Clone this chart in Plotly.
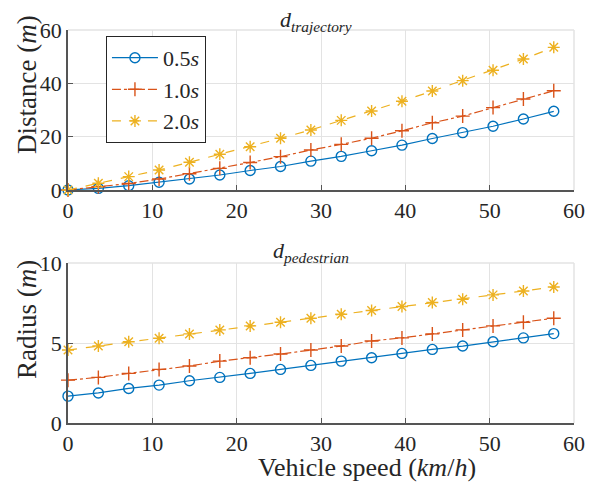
import plotly.graph_objects as go
from plotly.subplots import make_subplots

speed_kmh = [0, 3.6, 7.2, 10.8, 14.4, 18.0, 21.6, 25.2, 28.8, 32.4, 36.0, 39.6, 43.2, 46.8, 50.4, 54.0, 57.6]

traj_05 = [0, 0.6, 1.6, 2.9, 4.1, 5.6, 7.3, 8.8, 10.8, 12.6, 14.7, 16.8, 19.3, 21.5, 23.9, 26.6, 29.5]
traj_10 = [0, 1.2, 2.4, 4.1, 6.1, 8.1, 10.3, 12.5, 15.0, 17.1, 19.4, 22.2, 25.2, 27.7, 30.9, 34.1, 37.2]
traj_20 = [0, 2.5, 5.0, 7.5, 10.4, 13.4, 16.2, 19.4, 22.5, 26.1, 29.6, 33.3, 37.1, 41.0, 44.9, 49.1, 53.5]

ped_05 = [1.68, 1.88, 2.16, 2.37, 2.64, 2.85, 3.10, 3.35, 3.60, 3.87, 4.08, 4.35, 4.60, 4.81, 5.08, 5.32, 5.59]
ped_10 = [2.68, 2.85, 3.10, 3.35, 3.56, 3.87, 4.08, 4.31, 4.56, 4.81, 5.13, 5.32, 5.57, 5.82, 6.07, 6.30, 6.55]
ped_20 = [4.56, 4.81, 5.08, 5.30, 5.57, 5.82, 6.07, 6.30, 6.55, 6.80, 7.03, 7.28, 7.53, 7.74, 8.01, 8.25, 8.50]

series_names = ["0.5<i>s</i>", "1.0<i>s</i>", "2.0<i>s</i>"]
colors = ["#0072BD", "#D95319", "#EDB120"]
dashes = ["solid", "dashdot", "dash"]
symbols = ["circle-open", "cross-thin-open", "asterisk-open"]

FONT = "Liberation Serif"
TXT = "#262626"

fig = make_subplots(rows=2, cols=1, vertical_spacing=0.0)

top = [traj_05, traj_10, traj_20]
bot = [ped_05, ped_10, ped_20]
for i in range(3):
    for row, data, show in [(1, top[i], True), (2, bot[i], False)]:
        fig.add_trace(go.Scatter(
            x=speed_kmh, y=data, mode="lines+markers", name=series_names[i],
            showlegend=show, cliponaxis=False,
            line=dict(color=colors[i], width=1.2, dash=dashes[i]),
            marker=dict(symbol=symbols[i], size=10, color=colors[i],
                        line=dict(color=colors[i], width=1.4)),
        ), row=row, col=1)

axis_common = dict(
    showgrid=True, gridcolor="#E3E3E3", gridwidth=1,
    showline=True, linecolor="#555555", linewidth=1.5,
    ticks="inside", ticklen=5, tickcolor="#555555", tickwidth=1,
    tickfont=dict(family=FONT, size=22, color=TXT),
    zeroline=False, automargin=False,
)

fig.update_xaxes(range=[0, 60], dtick=10, tick0=0, **axis_common)
fig.update_yaxes(**axis_common)

# page body has an 8px default margin: figure sits at (8, 8) in the window
fig.update_layout(
    xaxis=dict(domain=[0, 1]),
    yaxis=dict(domain=[0.593, 1.0], range=[0, 60], tickvals=[0, 20, 40, 60]),
    xaxis2=dict(domain=[0, 1]),
    yaxis2=dict(domain=[0.0, 0.407], range=[0, 10], tickvals=[0, 5, 10]),
    width=587, height=475,
    margin=dict(l=60, r=21, t=22, b=60),
    plot_bgcolor="white", paper_bgcolor="white",
    legend=dict(x=0.075, y=0.985, xanchor="left", yanchor="top",
                bordercolor=TXT, borderwidth=1, bgcolor="white",
                font=dict(family=FONT, size=22, color=TXT),
                tracegroupgap=0, itemwidth=46),
    showlegend=True,
)

# light box edges (top/right)
for xr, yr in [("x domain", "y domain"), ("x2 domain", "y2 domain")]:
    fig.add_shape(type="line", xref=xr, yref=yr, x0=0, x1=1, y0=1, y1=1,
                  line=dict(color="#E3E3E3", width=1.5))
    fig.add_shape(type="line", xref=xr, yref=yr, x0=1, x1=1, y0=0, y1=1,
                  line=dict(color="#E3E3E3", width=1.5))

# subplot titles (shifts in window pixels relative to plot-area corners)
fig.add_annotation(text="<i>d<sub>trajectory</sub></i>", xref="paper", yref="paper",
                   x=0.0, xshift=316 - 68, y=1.0, yshift=30 - 21, yanchor="middle",
                   xanchor="center", showarrow=False,
                   font=dict(family=FONT, size=22, color=TXT))
fig.add_annotation(text="<i>d<sub>pedestrian</sub></i>", xref="paper", yref="paper",
                   x=0.0, xshift=311 - 68, y=0.407, yshift=263 - 252, yanchor="middle",
                   xanchor="center", showarrow=False,
                   font=dict(family=FONT, size=22, color=TXT))

# axis titles
fig.add_annotation(text="Distance (<i>m</i>)", xref="paper", yref="paper",
                   x=0.0, xshift=27 - 68, y=1.0, yshift=30 - 85, textangle=-90,
                   xanchor="center", yanchor="middle", showarrow=False,
                   font=dict(family=FONT, size=27, color=TXT))
fig.add_annotation(text="Radius (<i>m</i>)", xref="paper", yref="paper",
                   x=0.0, xshift=27 - 68, y=0.407, yshift=263 - 320, textangle=-90,
                   xanchor="center", yanchor="middle", showarrow=False,
                   font=dict(family=FONT, size=27, color=TXT))
fig.add_annotation(text="Vehicle speed (<i>km</i>/<i>h</i>)", xref="paper", yref="paper",
                   x=0.0, xshift=367 - 68, y=0.0, yshift=423 - 467,
                   xanchor="center", yanchor="middle", showarrow=False,
                   font=dict(family=FONT, size=26, color=TXT))

fig.write_html("out.html")
